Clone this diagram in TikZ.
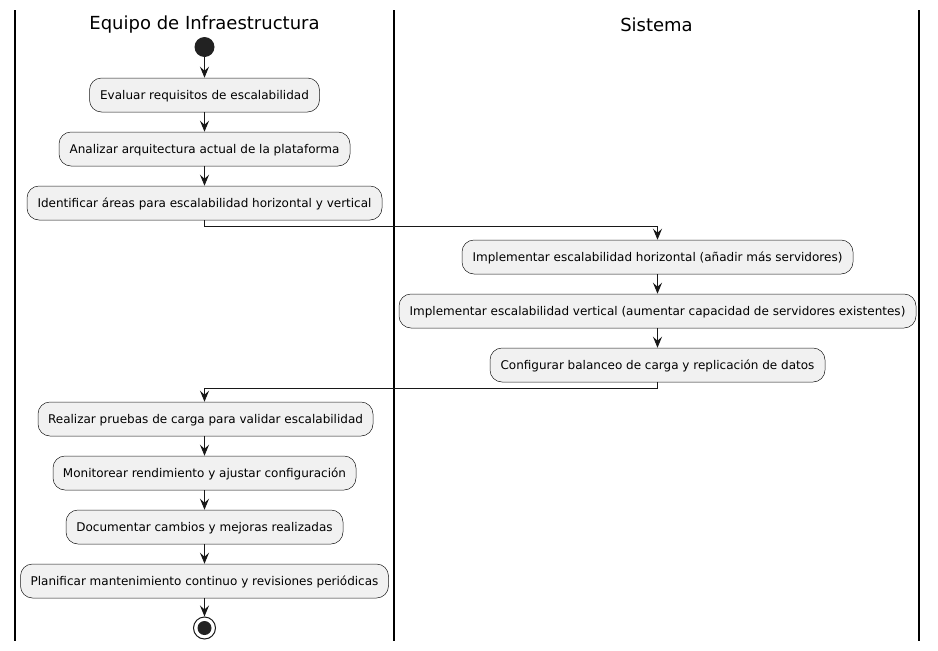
\documentclass[tikz,border=0pt]{standalone}
\usepackage{fontspec}
\setmainfont{DejaVu Sans}
\usetikzlibrary{arrows.meta}
\definecolor{lineC}{HTML}{181818}
\definecolor{fillC}{HTML}{F1F1F1}
\definecolor{dotC}{HTML}{222222}
\tikzset{
  act/.style={draw=lineC, line width=0.5pt, fill=fillC, rounded corners=12pt,
    minimum height=34pt, inner sep=0pt, font=\fontsize{12}{14}\selectfont, text=black,
    text height=9pt, text depth=1pt},
  flow/.style={draw=lineC, line width=1pt, -{Stealth[length=11pt,width=9pt,inset=4pt]}},
  lane/.style={draw=black, line width=1.2pt},
  title/.style={font=\fontsize{18}{21}\selectfont, text=black}
}
\begin{document}
\begin{tikzpicture}[x=1pt,y=-1pt]
\useasboundingbox (0,0) rectangle (938,651);
\draw[lane] (15,10) -- (15,641);
\draw[lane] (394,10) -- (394,641);
\draw[lane] (919,10) -- (919,641);
\node[title] (t1) at (204.5,25) {Equipo de Infraestructura};
\node[title] (t2) at (656.5,25) {Sistema};
\node[circle, fill=dotC, minimum size=20pt, inner sep=0pt] (start) at (204.5,47) {};
\node[act, minimum width=230pt] (b1) at (204.5,95) {Evaluar requisitos de escalabilidad};
\node[act, minimum width=291pt] (b2) at (204.5,149) {Analizar arquitectura actual de la plataforma};
\node[act, minimum width=355pt] (b3) at (204.5,203) {Identificar áreas para escalabilidad horizontal y vertical};
\node[act, minimum width=391pt] (b4) at (657.5,257) {Implementar escalabilidad horizontal (añadir más servidores)};
\node[act, minimum width=517pt] (b5) at (657.5,311) {Implementar escalabilidad vertical (aumentar capacidad de servidores existentes)};
\node[act, minimum width=335pt] (b6) at (657.5,365) {Configurar balanceo de carga y replicación de datos};
\node[act, minimum width=335pt] (b7) at (205.5,419) {Realizar pruebas de carga para validar escalabilidad};
\node[act, minimum width=303pt] (b8) at (204.5,473) {Monitorear rendimiento y ajustar configuración};
\node[act, minimum width=277pt] (b9) at (204.5,527) {Documentar cambios y mejoras realizadas};
\node[act, minimum width=368pt] (b10) at (204.5,581) {Planificar mantenimiento continuo y revisiones periódicas};
\node[circle, draw=lineC, line width=1pt, fill=white, minimum size=22pt, inner sep=0pt] (endo) at (204.5,628) {};
\node[circle, fill=dotC, minimum size=14pt, inner sep=0pt] (endi) at (204.5,628) {};
\coordinate (c1) at (204.5,226);
\coordinate (c2) at (657.5,388);
\draw[flow] (start) -- (b1);
\draw[flow] (b1) -- (b2);
\draw[flow] (b2) -- (b3);
\draw[flow] (b3.south) -- (c1) -| (b4.north);
\draw[flow] (b4) -- (b5);
\draw[flow] (b5) -- (b6);
\draw[flow] (b6.south) -- (c2) -| (b7.north -| b3.south);
\draw[flow] (b7.south -| b3.south) -- (b8);
\draw[flow] (b8) -- (b9);
\draw[flow] (b9) -- (b10);
\draw[flow] (b10) -- (endo);
\end{tikzpicture}
\end{document}
